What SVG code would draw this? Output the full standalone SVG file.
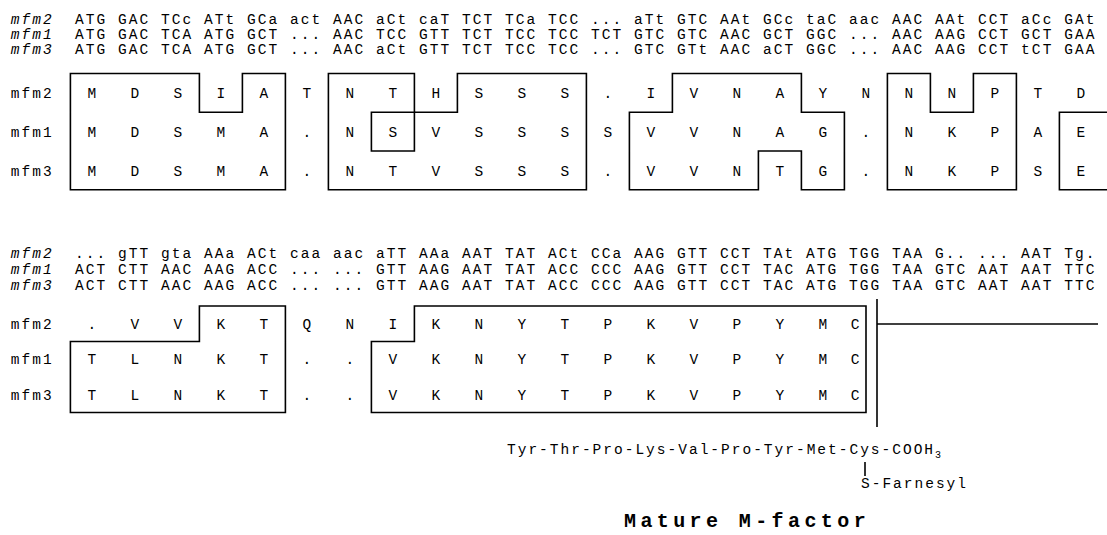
<svg xmlns="http://www.w3.org/2000/svg" width="1107" height="535" viewBox="0 0 1107 535">
<style>
.t{font-family:"Liberation Mono","DejaVu Sans Mono",monospace;font-size:14.5px;letter-spacing:2.05px;fill:#000}
.it{font-style:italic}
.aa{font-family:"Liberation Mono","DejaVu Sans Mono",monospace;font-size:14.5px;text-anchor:middle;fill:#000}
.box{fill:none;stroke:#000;stroke-width:1.6}
.big{font-family:"Liberation Mono","DejaVu Sans Mono",monospace;font-size:20px;font-weight:bold;letter-spacing:4.4px;fill:#000}
</style>
<rect width="1107" height="535" fill="#fff"/>
<g id="dna-top">
<text class="t it" x="10.7" y="24">mfm2</text>
<text class="t it" x="10.7" y="39">mfm1</text>
<text class="t it" x="10.7" y="54">mfm3</text>
<text class="t" x="75" y="24">ATG GAC TCc ATt GCa act AAC aCt caT TCT TCa TCC ... aTt GTC AAt GCc taC aac AAC AAt CCT aCc GAt</text>
<text class="t" x="75" y="39">ATG GAC TCA ATG GCT ... AAC TCC GTT TCT TCC TCC TCT GTC GTC AAC GCT GGC ... AAC AAG CCT GCT GAA</text>
<text class="t" x="75" y="54">ATG GAC TCA ATG GCT ... AAC aCt GTT TCT TCC TCC ... GTC GTt AAC aCT GGC ... AAC AAG CCT tCT GAA</text>
</g>
<g id="protein-top">
<text class="t" x="10.7" y="97.8">mfm2</text>
<text class="t" x="10.7" y="136.8">mfm1</text>
<text class="t" x="10.7" y="175.8">mfm3</text>
<text class="aa" y="97.8" x="91.9 134.9 177.9 220.9 263.9 306.9 349.9 392.9 435.9 478.9 521.9 564.9 607.9 650.9 693.9 736.9 779.9 822.9 865.9 908.9 951.9 994.9 1037.9 1080.9">MDSIATNTHSSS.IVNAYNNNPTD</text>
<text class="aa" y="136.8" x="91.9 134.9 177.9 220.9 263.9 306.9 349.9 392.9 435.9 478.9 521.9 564.9 607.9 650.9 693.9 736.9 779.9 822.9 865.9 908.9 951.9 994.9 1037.9 1080.9">MDSMA.NSVSSSSVVNAG.NKPAE</text>
<text class="aa" y="175.8" x="91.9 134.9 177.9 220.9 263.9 306.9 349.9 392.9 435.9 478.9 521.9 564.9 607.9 650.9 693.9 736.9 779.9 822.9 865.9 908.9 951.9 994.9 1037.9 1080.9">MDSMA.NTVSSS.VVNTG.NKPSE</text>
</g>
<g id="boxes-top">
<path class="box" d="M70.4,73.5 H199.4 V112.3 H242.4 V73.5 H285.4 V189.7 H70.4 Z"/>
<path class="box" d="M328.4,73.5 H414.4 V112.3 H457.4 V73.5 H586.4 V189.7 H328.4 Z"/>
<path class="box" d="M371.4,112.3 H414.4 V151 H371.4 Z"/>
<path class="box" d="M629.4,112.3 H672.4 V73.5 H801.4 V112.3 H844.4 V189.7 H801.4 V151 H758.4 V189.7 H629.4 Z"/>
<path class="box" d="M887.4,73.5 H930.4 V112.3 H973.4 V73.5 H1016.4 V189.7 H887.4 Z"/>
<path class="box" d="M1112,112.3 H1059.4 V189.7 H1112"/>
</g>
<g id="dna-bottom">
<text class="t it" x="10.7" y="257.5">mfm2</text>
<text class="t it" x="10.7" y="273.5">mfm1</text>
<text class="t it" x="10.7" y="289.5">mfm3</text>
<text class="t" x="75" y="257.5">... gTT gta AAa ACt caa aac aTT AAa AAT TAT ACt CCa AAG GTT CCT TAt ATG TGG TAA G.. ... AAT Tg.</text>
<text class="t" x="75" y="273.5">ACT CTT AAC AAG ACC ... ... GTT AAG AAT TAT ACC CCC AAG GTT CCT TAC ATG TGG TAA GTC AAT AAT TTC</text>
<text class="t" x="75" y="289.5">ACT CTT AAC AAG ACC ... ... GTT AAG AAT TAT ACC CCC AAG GTT CCT TAC ATG TGG TAA GTC AAT AAT TTC</text>
</g>
<g id="protein-bottom">
<text class="t" x="10.7" y="328.5">mfm2</text>
<text class="t" x="10.7" y="364">mfm1</text>
<text class="t" x="10.7" y="399.5">mfm3</text>
<text class="aa" y="328.5" x="91.9 134.9 177.9 220.9 263.9 306.9 349.9 392.9 435.9 478.9 521.9 564.9 607.9 650.9 693.9 736.9 779.9 822.9 855">.VVKTQNIKNYTPKVPYMC</text>
<text class="aa" y="364" x="91.9 134.9 177.9 220.9 263.9 306.9 349.9 392.9 435.9 478.9 521.9 564.9 607.9 650.9 693.9 736.9 779.9 822.9 855">TLNKT..VKNYTPKVPYMC</text>
<text class="aa" y="399.5" x="91.9 134.9 177.9 220.9 263.9 306.9 349.9 392.9 435.9 478.9 521.9 564.9 607.9 650.9 693.9 736.9 779.9 822.9 855">TLNKT..VKNYTPKVPYMC</text>
</g>
<g id="boxes-bottom">
<path class="box" d="M70.4,341.5 H199.4 V306 H285.4 V412.5 H70.4 Z"/>
<path class="box" d="M371.4,341.5 H414.4 V306 H866 V412.5 H371.4 Z"/>
</g>
<g id="connectors">
<path class="box" d="M877,299 V427"/>
<path class="box" d="M877,324 H1098"/>
<path class="box" stroke-width="1.2" d="M865,462 V476"/>
</g>
<g id="mature-factor">
<text class="t" style="letter-spacing:2px" x="507" y="454">Tyr-Thr-Pro-Lys-Val-Pro-Tyr-Met-Cys-COOH<tspan font-size="10" dy="4" style="letter-spacing:0">3</tspan></text>
<text class="t" style="letter-spacing:2px" x="861" y="488">S-Farnesyl</text>
<text class="big" x="624" y="527">Mature M-factor</text>
</g>
</svg>
